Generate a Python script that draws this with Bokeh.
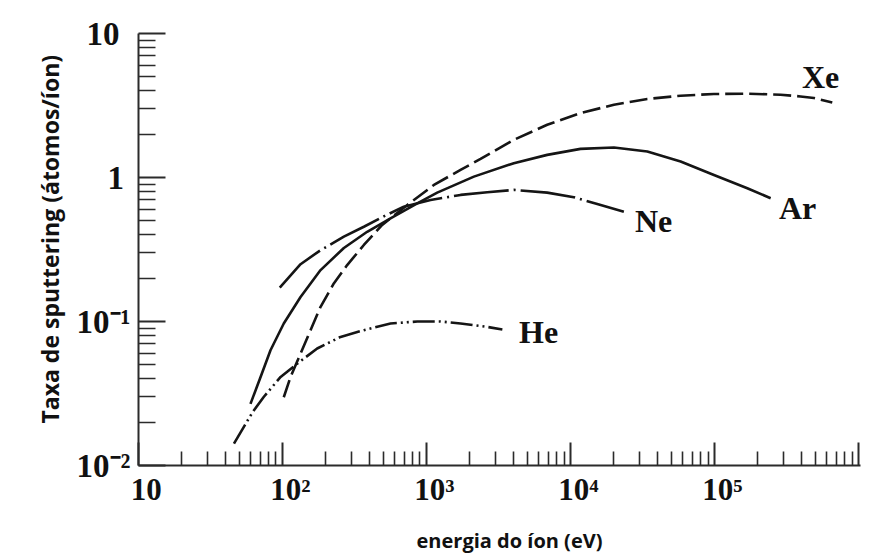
from bokeh.plotting import figure
from bokeh.models import FixedTicker, Title, ColumnDataSource
from bokeh.core.properties import value
from bokeh.embed import file_html
from bokeh.resources import INLINE

# ---- data ----
he_energy = [46, 62, 74, 97, 126.5, 174, 253, 367, 562, 862, 1250, 1722,
             2640, 3360]
he_yield = [0.0142, 0.0235, 0.0299, 0.0412, 0.0510, 0.0649, 0.0782, 0.0870,
            0.0968, 0.1000, 0.1000, 0.0969, 0.0917, 0.0879]

ne_energy = [95.7, 133.4, 183.7, 266.6, 367, 519, 695, 1066, 1722, 2640,
             4035, 6880, 10540, 15310, 23440]
ne_yield = [0.172, 0.250, 0.313, 0.388, 0.455, 0.545, 0.627, 0.698, 0.757,
            0.790, 0.820, 0.785, 0.730, 0.655, 0.579]

ar_energy = [59.9, 70.4, 82.5, 102, 133.4, 183.7, 266.6, 387, 562, 862,
             1186, 2131, 4035, 6880, 11720, 19990, 34090, 58070, 98900,
             168600, 245000]
ar_yield = [0.0268, 0.0412, 0.0631, 0.0968, 0.148, 0.2275, 0.324, 0.420,
            0.521, 0.661, 0.785, 1.014, 1.257, 1.436, 1.581, 1.615, 1.514,
            1.290, 1.042, 0.842, 0.718]

xe_energy = [102, 113.7, 133.4, 156.4, 183.7, 227, 281, 367, 492, 735, 1125,
             1722, 2371, 4035, 6880, 11720, 19990, 34090, 58070, 98900,
             168600, 287000, 395000, 489000, 656000]
xe_yield = [0.0298, 0.0412, 0.0599, 0.0870, 0.1264, 0.1838, 0.2465, 0.340,
            0.468, 0.644, 0.888, 1.130, 1.347, 1.827, 2.323, 2.803, 3.20,
            3.507, 3.70, 3.80, 3.817, 3.757, 3.656, 3.563, 3.32]

ion_names = ["Xe", "Ar", "Ne", "He"]
ion_label_energy = [544000, 377000, 37700, 5990]
ion_label_yield = [5.0, 0.614, 0.499, 0.0842]

x_major = [10, 100, 1e3, 1e4, 1e5, 1e6]
x_labels = ["\u200210", "\u200210\u00b2", "\u200210\u00b3", "\u200210\u2074",
            "\u200210\u2075", ""]
y_major = [0.01, 0.1, 1, 10]
y_labels = ["10\u207b\u00b2", "10\u207b\u00b9", "1\u2009", "10\u2004"]

x_title = "energia do íon (eV)"
y_title = "Taxa de sputtering (átomos/íon)"

# ---- figure ----
p = figure(width=886, height=556, x_axis_type="log", y_axis_type="log",
           x_range=(10, 1.03e6), y_range=(0.01, 10),
           output_backend="svg", toolbar_location=None,
           min_border_left=138, min_border_right=26,
           min_border_top=33, min_border_bottom=91)
p.outline_line_color = None
p.xgrid.visible = False
p.ygrid.visible = False
p.background_fill_color = "white"
p.border_fill_color = "white"

x_minor = [k * 10 ** d for d in range(1, 6) for k in range(2, 10)]
y_minor = [k * 10.0 ** d for d in range(-2, 1) for k in range(2, 10)]

p.xaxis.ticker = FixedTicker(ticks=x_major, minor_ticks=x_minor)
p.yaxis.ticker = FixedTicker(ticks=y_major, minor_ticks=y_minor)
p.xaxis.major_label_overrides = dict(zip(x_major, x_labels))
p.yaxis.major_label_overrides = dict(zip(y_major, y_labels))

axis_color = "#2b2b2b"
for ax in (p.xaxis, p.yaxis):
    ax.axis_line_color = axis_color
    ax.axis_line_width = 2
    ax.major_tick_line_color = axis_color
    ax.minor_tick_line_color = axis_color
    ax.major_tick_line_width = 2
    ax.minor_tick_line_width = 1.6
    ax.major_tick_out = 0
    ax.minor_tick_out = 0
    ax.major_label_text_font = "Liberation Serif"
    ax.major_label_text_font_style = "bold"
    ax.major_label_text_color = "#111111"

p.xaxis.major_tick_in = 23
p.xaxis.minor_tick_in = 14
p.yaxis.major_tick_in = 27
p.yaxis.minor_tick_in = 17
p.xaxis.major_label_text_font_size = "31px"
p.yaxis.major_label_text_font_size = "33px"
p.xaxis.major_label_standoff = 6
p.yaxis.major_label_standoff = 8

# x axis title
p.xaxis.axis_label = "\u2002\u2002" + x_title
p.xaxis.axis_label_text_font = "Open Sans"
p.xaxis.axis_label_text_font_style = "bold"
p.xaxis.axis_label_text_font_size = "20px"
p.xaxis.axis_label_text_color = "#111111"
p.xaxis.axis_label_standoff = 17

# ---- curves ----
line_color = "#151515"
lw = 2.6
p.line(he_energy, he_yield, line_color=line_color, line_width=lw,
       line_dash="22 4 2 4 2 4")
p.line(ne_energy, ne_yield, line_color=line_color, line_width=lw,
       line_dash="55 5 2 5")
p.line(ar_energy, ar_yield, line_color=line_color, line_width=lw)
p.line(xe_energy, xe_yield, line_color=line_color, line_width=lw,
       line_dash="18 6")

src = ColumnDataSource(dict(x=ion_label_energy, y=ion_label_yield, t=ion_names))
p.text(x="x", y="y", text="t", source=src, text_font=value("Liberation Serif"),
       text_font_style="bold", text_font_size="32px", text_color="#111111",
       text_align="center", text_baseline="middle")

# ---- y axis title ----
p.add_layout(Title(text=y_title, text_font="Open Sans", text_font_style="bold",
                   text_font_size="23px", text_color="#111111",
                   align="left", offset=42, standoff=16), "left")

open("out.html", "w").write(file_html(p, INLINE))
